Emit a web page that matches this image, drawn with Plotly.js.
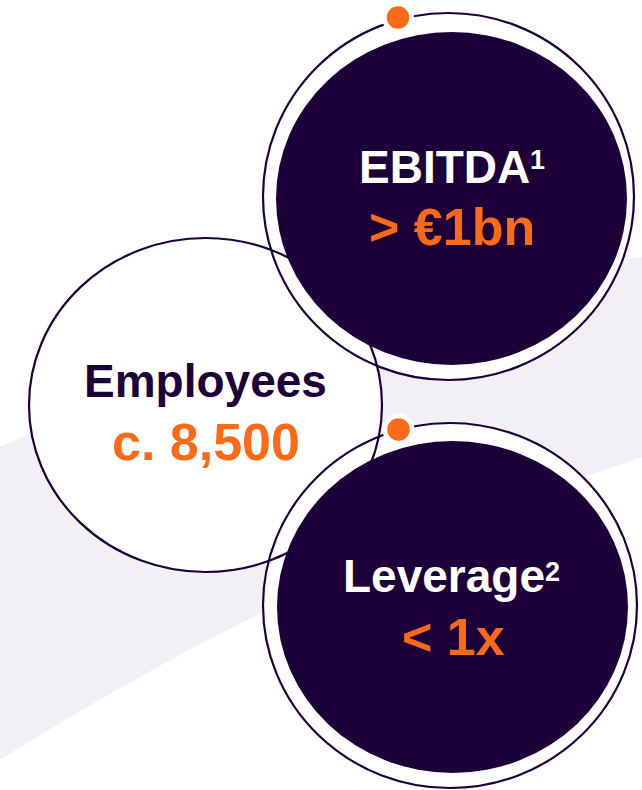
<!DOCTYPE html>
<html>
<head>
<meta charset="utf-8">
<script src="https://cdn.plot.ly/plotly-3.0.1.min.js"></script>
<style>
  html, body { margin: 0; padding: 0; background: #ffffff; }
  #chart { width: 642px; height: 790px; }
</style>
</head>
<body>
<div id="chart"></div>
<script>
// ---- content ----
var labels = ["EBITDA", "Employees", "Leverage"];
var footnotes = ["1", "", "2"];
var values = ["> €1bn", "c. 8,500", "< 1x"];

// ---- style ----
var DARK = "#1d0039";
var ORANGE = "#fb6a18";
var GRAY = "#f2f0f4";
var FONT = "Liberation Sans, Arial, Helvetica, sans-serif";

// ---- layout geometry (pixel space) ----
function ell(cx, cy, rx, ry, fill, line, lw) {
  return {
    type: "circle", xref: "x", yref: "y", layer: "above",
    x0: cx - rx, x1: cx + rx, y0: cy - ry, y1: cy + ry,
    fillcolor: fill || "rgba(0,0,0,0)",
    line: { color: line || "rgba(0,0,0,0)", width: line ? (lw || 2) : 0 }
  };
}

var topOuter = [448.5, 196.5, 185.5, 183.5];
var topInner = [451.5, 198.5, 175.5, 166.5];
var empC = [205.5, 405, 176.5, 167];
var levOuter = [450, 605.5, 187, 182.5];
var levInner = [452.5, 607, 175.5, 166];
var dots = [[398, 17.5], [398.5, 429.5]];

var shapes = [];
// background band
shapes.push({
  type: "path", xref: "x", yref: "y", layer: "below",
  path: "M -5,449 Q 334,300 647,256 L 647,456 Q 322,557 -5,763 Z",
  fillcolor: GRAY, line: { width: 0 }
});
// white fills
shapes.push(ell(topOuter[0], topOuter[1], topOuter[2], topOuter[3], "#ffffff"));
shapes.push(ell(levOuter[0], levOuter[1], levOuter[2], levOuter[3], "#ffffff"));
shapes.push(ell(empC[0], empC[1], empC[2], empC[3], "#ffffff"));
// outlines
shapes.push(ell(topOuter[0], topOuter[1], topOuter[2], topOuter[3], null, DARK, 2.2));
shapes.push(ell(levOuter[0], levOuter[1], levOuter[2], levOuter[3], null, DARK, 2.2));
shapes.push(ell(empC[0], empC[1], empC[2], empC[3], null, DARK, 2.2));
// dark discs
shapes.push(ell(topInner[0], topInner[1], topInner[2], topInner[3], DARK));
shapes.push(ell(levInner[0], levInner[1], levInner[2], levInner[3], DARK));
// dots
dots.forEach(function (d) {
  shapes.push(ell(d[0], d[1], 16, 16, "#ffffff"));
  shapes.push(ell(d[0], d[1], 11.2, 11.2, ORANGE));
});

// text placement
var labelPos = [[444, 167], [205.5, 381], [444, 576]];
var valuePos = [[451.5, 227], [206, 442], [453.5, 637]];
var supPos = [[528, 160], null, [543, 572]];
var labelColors = ["#ffffff", DARK, "#ffffff"];

var annotations = [];
for (var i = 0; i < labels.length; i++) {
  annotations.push({
    xref: "x", yref: "y", x: labelPos[i][0], y: labelPos[i][1],
    text: "<b>" + labels[i] + "</b>", showarrow: false,
    xanchor: "center", yanchor: "middle",
    font: { family: FONT, size: 46, color: labelColors[i] }
  });
  annotations.push({
    xref: "x", yref: "y", x: valuePos[i][0], y: valuePos[i][1],
    text: "<b>" + values[i] + "</b>", showarrow: false,
    xanchor: "center", yanchor: "middle",
    font: { family: FONT, size: 52, color: ORANGE }
  });
  if (footnotes[i]) {
    annotations.push({
      xref: "x", yref: "y", x: supPos[i][0], y: supPos[i][1],
      text: "<b>" + footnotes[i] + "</b>", showarrow: false,
      xanchor: "left", yanchor: "middle",
      font: { family: FONT, size: 27, color: labelColors[i] }
    });
  }
}

var data = [{
  type: "scatter", mode: "markers", x: [], y: [],
  hoverinfo: "skip", showlegend: false
}];

var layout = {
  width: 642, height: 790,
  margin: { l: 0, r: 0, t: 0, b: 0, pad: 0 },
  paper_bgcolor: "#ffffff", plot_bgcolor: "#ffffff",
  showlegend: false,
  xaxis: { range: [0, 642], visible: false, fixedrange: true },
  yaxis: { range: [790, 0], visible: false, fixedrange: true },
  shapes: shapes,
  annotations: annotations
};

Plotly.newPlot("chart", data, layout, { displayModeBar: false, staticPlot: true });
</script>
</body>
</html>
